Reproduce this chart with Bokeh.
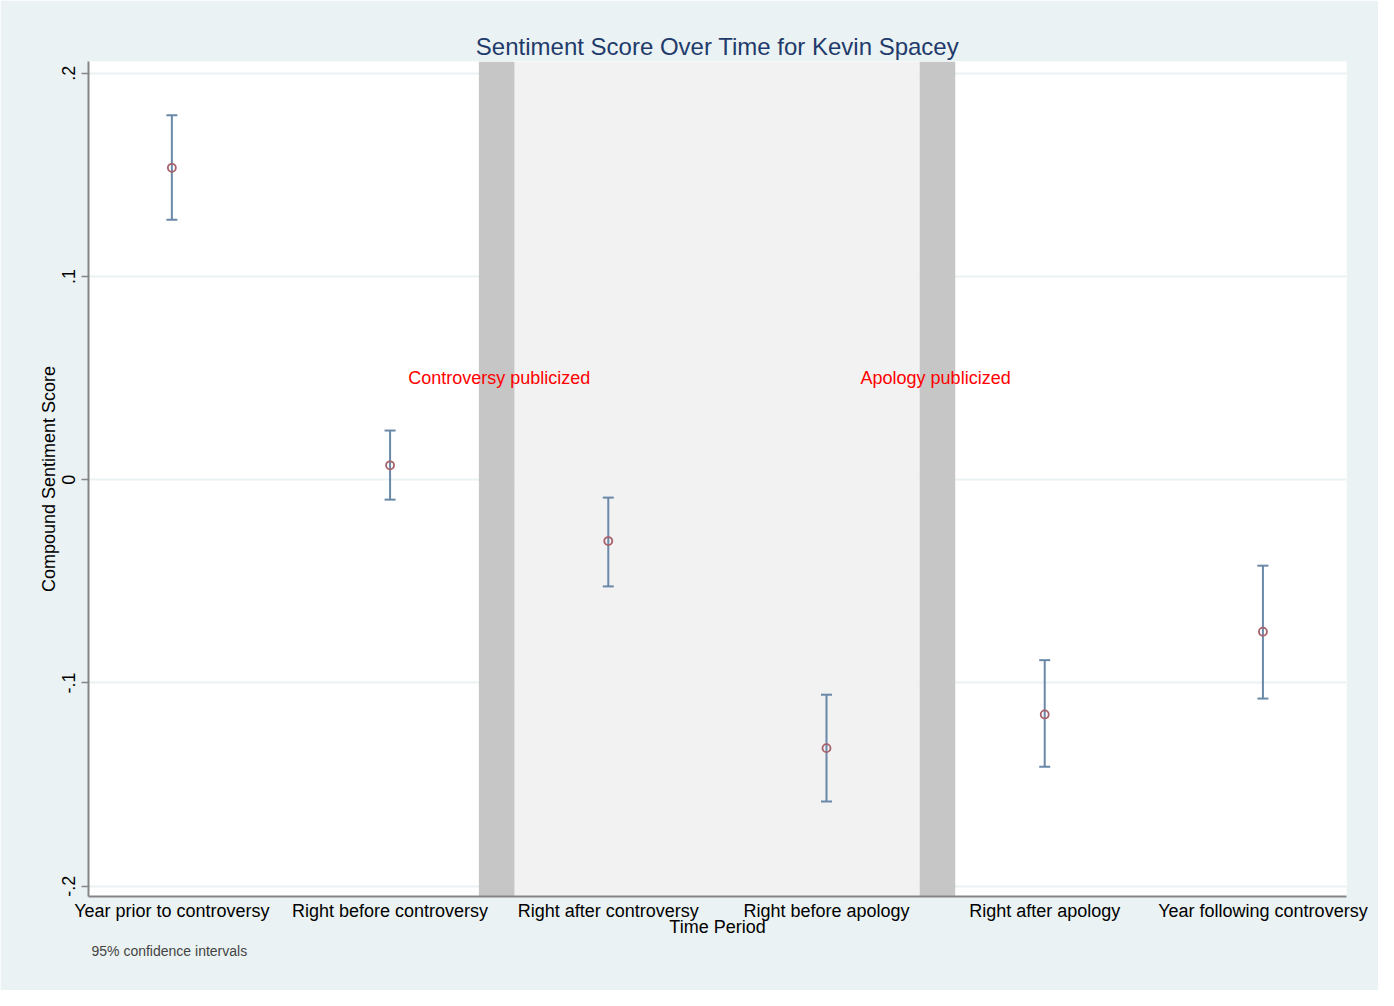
from bokeh.plotting import figure
from bokeh.models import Range1d, FixedTicker, ColumnDataSource, Title
from bokeh.core.properties import value
from bokeh.embed import file_html
from bokeh.resources import INLINE

# ---- data ----
periods = ["Year prior to controversy", "Right before controversy",
           "Right after controversy", "Right before apology",
           "Right after apology", "Year following controversy"]
positions = [1, 2, 3, 4, 5, 6]
means = [0.1535, 0.0071, -0.0302, -0.1321, -0.1155, -0.0748]
upper = [0.1793, 0.0242, -0.0088, -0.1058, -0.0888, -0.0423]
lower = [0.1279, -0.0098, -0.0525, -0.1583, -0.1412, -0.1077]

y_ticks = [-0.2, -0.1, 0, 0.1, 0.2]
y_tick_labels = ["-.2", "-.1", "0", ".1", ".2"]

event_names = ["Controversy publicized", "Apology publicized"]
event_x = [2.5, 4.5]
event_y = [0.05, 0.05]
event_band_left = [2.407, 4.427]
event_band_right = [2.570, 4.590]
between_left = [2.570]
between_right = [4.427]

title_text = "Sentiment Score Over Time for Kevin Spacey"
x_title = "Time Period"
y_title = "Compound Sentiment Score"
note_text = "95% confidence intervals"

X0, X1 = 0.618, 6.383
Y0, Y1 = -0.2051, 0.2058

FONT = "Liberation Sans"
BG = "#EAF2F3"

p = figure(width=1378, height=990, x_range=Range1d(X0, X1), y_range=Range1d(Y0, Y1),
           output_backend="svg", toolbar_location=None,
           min_border_left=88, min_border_right=32, min_border_top=61, min_border_bottom=94,
           background_fill_color="white", border_fill_color=BG, outline_line_color=None)

# title (above) and note (below)
p.title.text = title_text
p.title.align = "center"
p.title.text_font = FONT
p.title.text_font_size = "24px"
p.title.text_font_style = "normal"
p.title.text_color = "#1F3B6B"
p.title.standoff = 3

# grid
p.xgrid.grid_line_color = None
p.ygrid.ticker = FixedTicker(ticks=y_ticks)
p.ygrid.grid_line_color = "#EAF2F3"
p.ygrid.grid_line_width = 2

# bands
p.quad(left=between_left, right=between_right, bottom=[Y0], top=[Y1],
       fill_color="#F2F2F2", line_color=None)
p.quad(left=event_band_left, right=event_band_right, bottom=[Y0] * 2, top=[Y1] * 2,
       fill_color="#C6C6C6", line_color=None)

# CI bars
src = ColumnDataSource(dict(x=positions, m=means, up=upper, lo=lower))
ci_color = "#6A88A8"
p.segment(x0="x", y0="lo", x1="x", y1="up", source=src, line_color=ci_color, line_width=2)
p.scatter(x="x", y="up", source=src, marker="dash", size=11, line_color=ci_color, line_width=2)
p.scatter(x="x", y="lo", source=src, marker="dash", size=11, line_color=ci_color, line_width=2)
p.scatter(x="x", y="m", source=src, marker="circle", size=8, fill_color=None,
          line_color="#A8606A", line_width=1.8)

# event text
esrc = ColumnDataSource(dict(x=event_x, y=event_y, t=event_names))
p.text(x="x", y="y", text="t", source=esrc, text_color="#FF0000",
       text_font=value(FONT), text_font_size="18px", text_align="center",
       text_baseline="middle")

# axes
for ax in (p.xaxis, p.yaxis):
    ax.axis_line_color = "#858585"
    ax.axis_line_width = 2
    ax.major_label_text_font = FONT
    ax.major_label_text_font_size = "18px"
    ax.major_label_text_color = "#000000"
    ax.axis_label_text_font = FONT
    ax.axis_label_text_font_size = "18px"
    ax.axis_label_text_font_style = "normal"
    ax.axis_label_text_color = "#000000"
    ax.minor_tick_line_color = None

p.xaxis.ticker = FixedTicker(ticks=positions)
p.xaxis.major_label_overrides = dict(zip(positions, periods))
p.xaxis.major_tick_line_color = None
p.xaxis.major_tick_out = 0
p.xaxis.major_tick_in = 0
p.xaxis.major_label_standoff = 4
p.xaxis.axis_label = x_title
p.xaxis.axis_label_standoff = -7

p.yaxis.ticker = FixedTicker(ticks=y_ticks)
p.yaxis.major_label_overrides = dict(zip(y_ticks, y_tick_labels))
p.yaxis.major_label_orientation = "vertical"
p.yaxis.major_tick_line_color = "#858585"
p.yaxis.major_tick_line_width = 1.5
p.yaxis.major_tick_out = 7
p.yaxis.major_tick_in = 0
p.yaxis.major_label_standoff = 6
p.yaxis.axis_label = y_title
p.yaxis.axis_label_standoff = 1

note = Title(text=note_text, align="left", offset=3, standoff=2,
             text_font=FONT, text_font_size="14px", text_font_style="normal",
             text_color="#444444")
p.add_layout(note, "below")

open("out.html", "w").write(file_html(p, INLINE))
